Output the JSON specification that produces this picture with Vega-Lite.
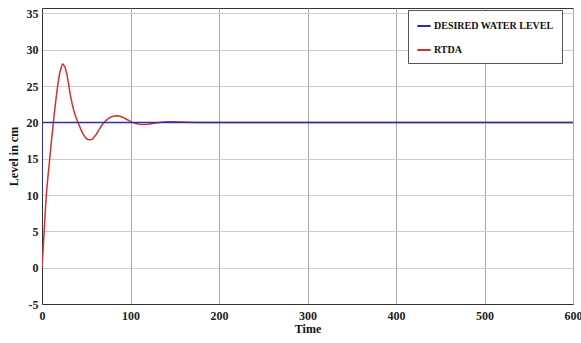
{
  "$schema": "https://vega.github.io/schema/vega-lite/v6.json",
  "autosize": {"type": "none"},
  "padding": {"left": 42, "top": 8, "right": 8, "bottom": 39},
  "width": 531,
  "height": 296,
  "background": "white",
  "config": {
    "view": {"stroke": "#333333", "strokeWidth": 1},
    "font": "Liberation Serif"
  },
  "data": {
    "values": [
      {"t": 0, "v": 10, "s": "DESIRED WATER LEVEL", "k": 0},
      {"t": 0, "v": 20, "s": "DESIRED WATER LEVEL", "k": 1},
      {"t": 600, "v": 20, "s": "DESIRED WATER LEVEL", "k": 2},
      {"t": 0, "v": 0, "s": "RTDA", "k": 0},
      {"t": 1, "v": 2, "s": "RTDA", "k": 1},
      {"t": 2, "v": 4.1, "s": "RTDA", "k": 2},
      {"t": 3, "v": 6.2, "s": "RTDA", "k": 3},
      {"t": 4, "v": 8.3, "s": "RTDA", "k": 4},
      {"t": 5, "v": 10.2, "s": "RTDA", "k": 5},
      {"t": 6, "v": 11.6, "s": "RTDA", "k": 6},
      {"t": 8, "v": 14.1, "s": "RTDA", "k": 7},
      {"t": 10, "v": 16.6, "s": "RTDA", "k": 8},
      {"t": 12, "v": 19.0, "s": "RTDA", "k": 9},
      {"t": 14, "v": 21.3, "s": "RTDA", "k": 10},
      {"t": 16, "v": 23.4, "s": "RTDA", "k": 11},
      {"t": 18, "v": 25.3, "s": "RTDA", "k": 12},
      {"t": 20, "v": 26.8, "s": "RTDA", "k": 13},
      {"t": 22, "v": 27.7, "s": "RTDA", "k": 14},
      {"t": 23, "v": 28.0, "s": "RTDA", "k": 15},
      {"t": 24, "v": 28.0, "s": "RTDA", "k": 16},
      {"t": 26, "v": 27.6, "s": "RTDA", "k": 17},
      {"t": 28, "v": 26.7, "s": "RTDA", "k": 18},
      {"t": 30, "v": 25.3, "s": "RTDA", "k": 19},
      {"t": 32, "v": 23.8, "s": "RTDA", "k": 20},
      {"t": 34, "v": 22.6, "s": "RTDA", "k": 21},
      {"t": 36, "v": 21.6, "s": "RTDA", "k": 22},
      {"t": 38, "v": 20.8, "s": "RTDA", "k": 23},
      {"t": 40, "v": 20.2, "s": "RTDA", "k": 24},
      {"t": 42, "v": 19.6, "s": "RTDA", "k": 25},
      {"t": 44, "v": 19.0, "s": "RTDA", "k": 26},
      {"t": 46, "v": 18.5, "s": "RTDA", "k": 27},
      {"t": 48, "v": 18.1, "s": "RTDA", "k": 28},
      {"t": 50, "v": 17.8, "s": "RTDA", "k": 29},
      {"t": 52, "v": 17.65, "s": "RTDA", "k": 30},
      {"t": 54, "v": 17.6, "s": "RTDA", "k": 31},
      {"t": 56, "v": 17.65, "s": "RTDA", "k": 32},
      {"t": 58, "v": 17.85, "s": "RTDA", "k": 33},
      {"t": 61, "v": 18.3, "s": "RTDA", "k": 34},
      {"t": 64, "v": 18.9, "s": "RTDA", "k": 35},
      {"t": 67, "v": 19.5, "s": "RTDA", "k": 36},
      {"t": 70, "v": 20.0, "s": "RTDA", "k": 37},
      {"t": 74, "v": 20.45, "s": "RTDA", "k": 38},
      {"t": 78, "v": 20.75, "s": "RTDA", "k": 39},
      {"t": 82, "v": 20.88, "s": "RTDA", "k": 40},
      {"t": 85, "v": 20.9, "s": "RTDA", "k": 41},
      {"t": 88, "v": 20.85, "s": "RTDA", "k": 42},
      {"t": 92, "v": 20.65, "s": "RTDA", "k": 43},
      {"t": 96, "v": 20.4, "s": "RTDA", "k": 44},
      {"t": 99, "v": 20.2, "s": "RTDA", "k": 45},
      {"t": 102, "v": 20.0, "s": "RTDA", "k": 46},
      {"t": 106, "v": 19.85, "s": "RTDA", "k": 47},
      {"t": 110, "v": 19.76, "s": "RTDA", "k": 48},
      {"t": 115, "v": 19.72, "s": "RTDA", "k": 49},
      {"t": 120, "v": 19.76, "s": "RTDA", "k": 50},
      {"t": 125, "v": 19.85, "s": "RTDA", "k": 51},
      {"t": 130, "v": 19.95, "s": "RTDA", "k": 52},
      {"t": 135, "v": 20.03, "s": "RTDA", "k": 53},
      {"t": 140, "v": 20.08, "s": "RTDA", "k": 54},
      {"t": 148, "v": 20.1, "s": "RTDA", "k": 55},
      {"t": 156, "v": 20.07, "s": "RTDA", "k": 56},
      {"t": 165, "v": 20.02, "s": "RTDA", "k": 57},
      {"t": 175, "v": 19.99, "s": "RTDA", "k": 58},
      {"t": 190, "v": 20.0, "s": "RTDA", "k": 59},
      {"t": 250, "v": 20.0, "s": "RTDA", "k": 60},
      {"t": 600, "v": 20.0, "s": "RTDA", "k": 61}
    ]
  },
  "encoding": {
    "x": {
      "field": "t",
      "type": "quantitative",
      "scale": {"domain": [0, 600], "nice": false, "zero": false},
      "axis": {
        "title": "Time",
        "values": [0, 100, 200, 300, 400, 500, 600],
        "format": "d",
        "grid": true,
        "gridColor": "#a8a8a8",
        "gridWidth": 1,
        "domainColor": "#333333",
        "ticks": false,
        "labelFont": "Liberation Serif",
        "labelFontWeight": "bold",
        "labelFontSize": 12,
        "labelColor": "#222222",
        "labelPadding": 6,
        "labelFlush": false,
        "titleFont": "Liberation Serif",
        "titleFontWeight": "bold",
        "titleFontSize": 12,
        "titleColor": "#111111",
        "titlePadding": 2
      }
    },
    "y": {
      "field": "v",
      "type": "quantitative",
      "scale": {"domain": [-5, 35.75], "nice": false, "zero": false},
      "axis": {
        "title": "Level in cm",
        "values": [-5, 0, 5, 10, 15, 20, 25, 30, 35],
        "labelExpr": "'' + datum.value",
        "grid": true,
        "gridColor": "#cccccc",
        "gridWidth": 1,
        "domainColor": "#333333",
        "ticks": false,
        "labelFont": "Liberation Serif",
        "labelFontWeight": "bold",
        "labelFontSize": 12,
        "labelColor": "#222222",
        "labelPadding": 4,
        "titleFont": "Liberation Serif",
        "titleFontWeight": "bold",
        "titleFontSize": 12,
        "titleColor": "#111111",
        "titlePadding": 6
      }
    },
    "color": {
      "field": "s",
      "type": "nominal",
      "scale": {
        "domain": ["DESIRED WATER LEVEL", "RTDA"],
        "range": ["#2c2cae", "#d43030"]
      },
      "legend": {
        "title": null,
        "orient": "none",
        "legendX": 366,
        "legendY": 2,
        "direction": "vertical",
        "symbolType": "stroke",
        "symbolSize": 180,
        "symbolStrokeWidth": 2,
        "strokeColor": "#555555",
        "fillColor": "white",
        "padding": 8,
        "rowPadding": 11,
        "labelFont": "Liberation Serif",
        "labelFontWeight": "bold",
        "labelFontSize": 10,
        "labelColor": "#111111",
        "labelOffset": 2,
        "labelLimit": 300
      }
    },
    "order": {"field": "k", "type": "quantitative"}
  },
  "layer": [
    {
      "transform": [{"filter": "datum.s === 'RTDA'"}],
      "mark": {"type": "line", "strokeWidth": 1.5, "clip": true}
    },
    {
      "transform": [{"filter": "datum.s === 'DESIRED WATER LEVEL'"}],
      "mark": {"type": "line", "strokeWidth": 1.5, "clip": true}
    }
  ]
}
